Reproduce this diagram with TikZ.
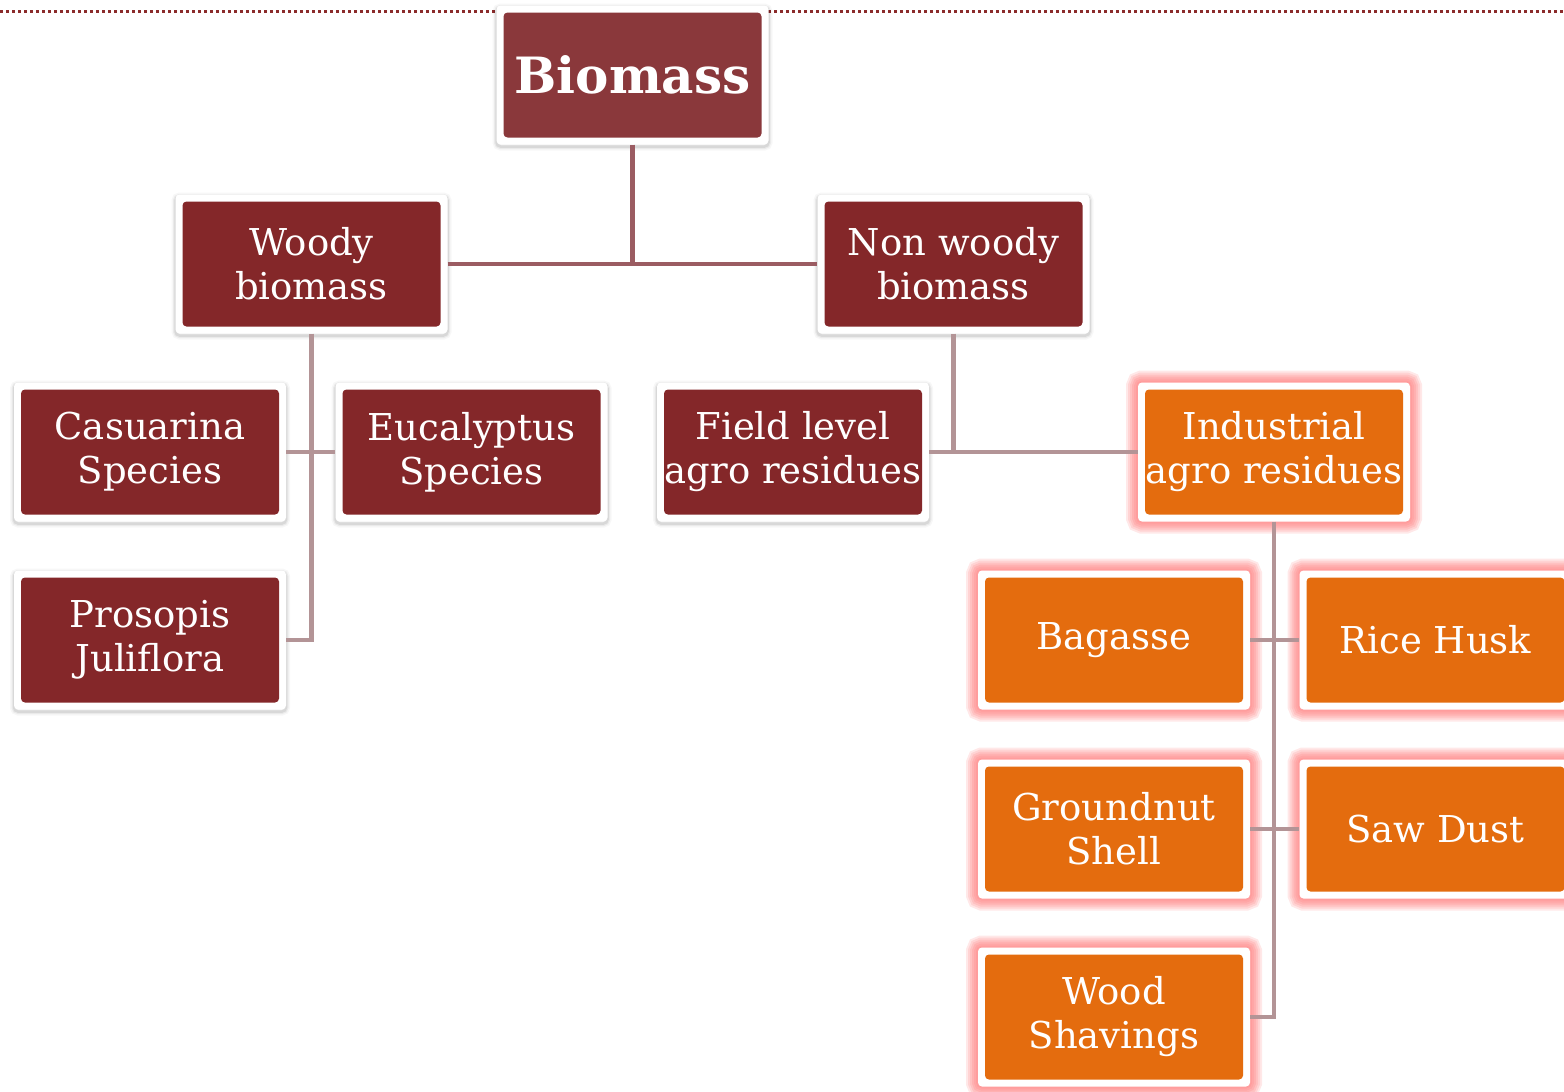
\documentclass[tikz,border=0pt]{standalone}
\usepackage{fontspec}
\setmainfont{DejaVu Serif}
\definecolor{topred}{HTML}{8A383B}
\definecolor{darkred}{HTML}{842729}
\definecolor{orangefill}{HTML}{E46C0E}
\definecolor{glowpink}{HTML}{FF8A8A}
\definecolor{lineA}{HTML}{9B5C62}
\definecolor{lineB}{HTML}{B39496}
\definecolor{dotred}{HTML}{8B2B2B}
\tikzset{
  inner fill/.style={path picture={\fill[#1] ([shift={(7pt,7pt)}]path picture bounding box.south west) rectangle ([shift={(-7pt,-7pt)}]path picture bounding box.north east);}},
  box/.style={rectangle, fill=white, rounded corners=4pt, minimum width=272pt, minimum height=139pt, inner sep=0pt, align=center, text=white, font=\fontsize{37}{44}\selectfont},
  softshadow/.style={
     preaction={draw=black, line width=8pt, opacity=0.03, transform canvas={yshift=-2pt}},
     preaction={draw=black, line width=5pt, opacity=0.05, transform canvas={yshift=-2pt}},
     preaction={draw=black, line width=2.5pt, opacity=0.08, transform canvas={yshift=-2pt}}},
  redbox/.style={box, softshadow, inner fill=darkred},
  topbox/.style={box, softshadow, inner fill=topred, font=\fontsize{50}{56}\selectfont\bfseries},
  orangebox/.style={box, inner fill=orangefill,
     preaction={draw=glowpink, line width=24pt, opacity=0.2},
     preaction={draw=glowpink, line width=20pt, opacity=0.22},
     preaction={draw=glowpink, line width=16pt, opacity=0.25},
     preaction={draw=glowpink, line width=12pt, opacity=0.28},
     preaction={draw=glowpink, line width=8pt, opacity=0.3},
     preaction={draw=glowpink, line width=4pt, opacity=0.3}},
  connA/.style={draw=lineA, line width=4.5pt},
  connB/.style={draw=lineB, line width=4.5pt},
}
\begin{document}
\begin{tikzpicture}[x=1pt, y=-1pt]
\useasboundingbox (0,0) rectangle (1564,1092);
\coordinate (dl) at (0,11.5);
\coordinate (dr) at (1564,11.5);
\draw[dotred, line width=3pt, dash pattern=on 3pt off 3pt] (dl) -- (dr);

\node[topbox] (bio) at (632.5,75) {Biomass};
\node[redbox] (woody) at (311.5,264) {Woody\\biomass};
\node[redbox] (nonwoody) at (953.5,264) {Non woody\\biomass};
\node[redbox] (casuarina) at (150,452) {Casuarina\\Species};
\node[redbox] (eucalyptus) at (471.5,452) {Eucalyptus\\Species};
\node[redbox] (field) at (793,452) {Field level\\agro residues};
\node[redbox] (prosopis) at (150,640) {Prosopis\\Juliflora};
\node[orangebox] (industrial) at (1274,452) {Industrial\\agro residues};
\node[orangebox] (bagasse) at (1114,640) {Bagasse};
\node[orangebox] (rice) at (1435.5,640) {Rice Husk};
\node[orangebox] (groundnut) at (1114,829) {Groundnut\\Shell};
\node[orangebox] (sawdust) at (1435.5,829) {Saw Dust};
\node[orangebox] (wood) at (1114,1017) {Wood\\Shavings};

\draw[connA] (bio.south) -- (bio.south |- woody.east);
\draw[connA] (woody.east) -- (nonwoody.west);
\draw[connB] (woody.south) |- (prosopis.east);
\draw[connB] (casuarina.east) -- (eucalyptus.west);
\draw[connB] (nonwoody.south) |- (industrial.west);
\draw[connB] (field.east) -- (industrial.west);
\draw[connB] (industrial.south) |- (wood.east);
\draw[connB] (bagasse.east) -- (rice.west);
\draw[connB] (groundnut.east) -- (sawdust.west);
\end{tikzpicture}
\end{document}
